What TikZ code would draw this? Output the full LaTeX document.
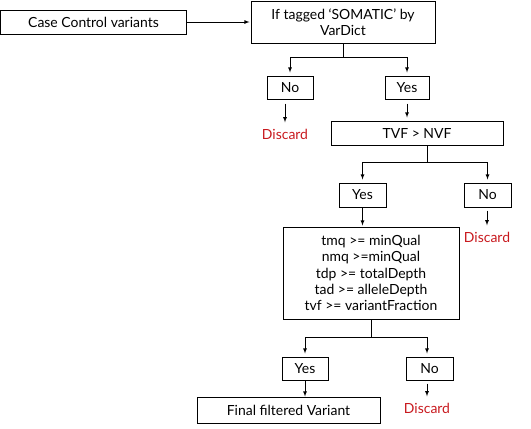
\documentclass[tikz,border=0pt]{standalone}
\usepackage{fontspec}
\setmainfont{Lato}
\usepackage{xcolor}
\usepackage{tikz}
\usetikzlibrary{arrows}
\definecolor{discardred}{RGB}{200,25,30}

\begin{document}
\begin{tikzpicture}[x=1bp,y=-1bp,font=\fontsize{14}{16.3}\selectfont,
    box/.style={draw,line width=1bp,align=center,inner sep=0pt},
    flow/.style={-latex,line width=0.8bp,shorten >=3bp},
    bad/.style={text=discardred}]
    \useasboundingbox (0,0) rectangle (531,428);
    \node[box,minimum width=185bp,minimum height=24bp] (case) at (93.5,22) {Case Control variants};
    \node[box,minimum width=184bp,minimum height=42bp] (tag) at (343,22) {If tagged ‘SOMATIC’ by\\VarDict};
    \node[box,minimum width=46bp,minimum height=23bp] (no1) at (290,87.5) {No};
    \node[box,minimum width=44bp,minimum height=23bp] (yes1) at (407,87.5) {Yes};
    \node[bad] (dis1) at (285,134) {Discard};
    \node[box,minimum width=172bp,minimum height=24bp] (tvf) at (417,133) {TVF > NVF};
    \node[box,minimum width=47bp,minimum height=24bp] (yes2) at (362.5,195) {Yes};
    \node[box,minimum width=47bp,minimum height=24bp] (no2) at (487.5,195) {No};
    \node[bad] (dis2) at (487,237) {Discard};
    \node[box,minimum width=176bp,minimum height=92bp] (qual) at (371,273)
      {tmq >= minQual\\nmq >=minQual\\tdp >= totalDepth\\tad >= alleleDepth\\tvf >= variantFraction};
    \node[box,minimum width=46bp,minimum height=23bp] (yes3) at (305,368.5) {Yes};
    \node[box,minimum width=47bp,minimum height=23bp] (no3) at (429.5,368.5) {No};
    \node[box,minimum width=183bp,minimum height=26bp] (final) at (288.5,410) {Final filtered Variant};
    \node[bad] (dis3) at (427,408) {Discard};
    % first split
    \draw[flow,shorten >=1bp] (case) -- (tag);
    \draw[line width=0.8bp] (tag.south) -- ++(0,14) coordinate (s1);
    \draw[flow] (s1) -| (no1.north);
    \draw[flow] (s1) -| (yes1.north);
    \draw[flow,shorten <=4bp] (dis1.north |- no1.south) -- (dis1.north);
    \draw[flow,shorten <=4bp] (yes1.south) -- (yes1.south |- tvf.north);
    % second split
    \draw[line width=0.8bp] ([xshift=10bp]tvf.south) -- ++(0,17) coordinate (s2);
    \draw[flow] (s2) -| (yes2.north);
    \draw[flow] (s2) -| (no2.north);
    \draw[flow,shorten <=3bp] (dis2.north |- no2.south) -- (dis2.north);
    \draw[flow,shorten >=1bp] (yes2.south) -- (yes2.south |- qual.north);
    % third split
    \draw[line width=0.8bp] (qual.south) -- ++(0,18) coordinate (s3);
    \draw[flow] (s3) -| (yes3.north);
    \draw[flow] (s3) -| ([xshift=-2.5bp]no3.north);
    \draw[flow,shorten >=0bp] (yes3.south) -- (yes3.south |- final.north);
    \draw[flow,shorten <=3bp] (dis3.north |- no3.south) -- (dis3.north);
\end{tikzpicture}
\end{document}
